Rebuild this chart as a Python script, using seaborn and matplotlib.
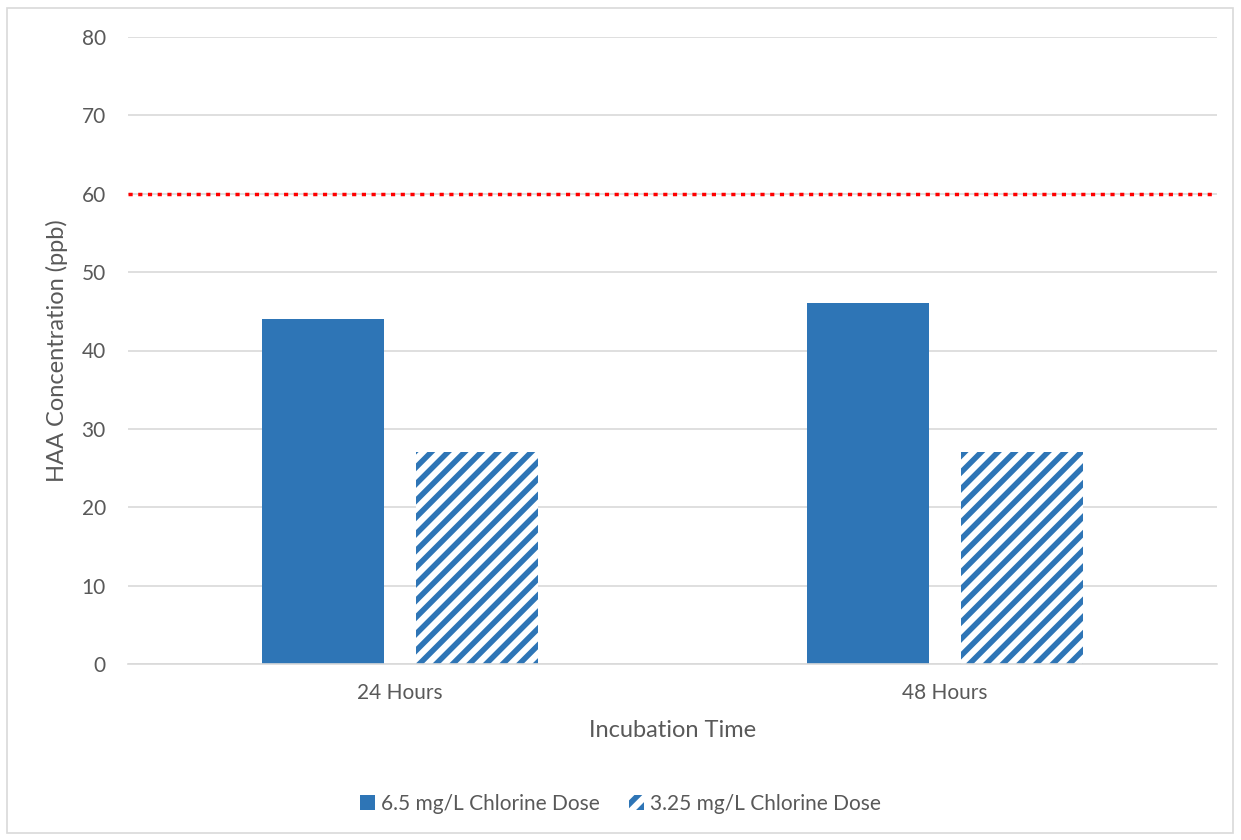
import matplotlib
matplotlib.use("Agg")
import matplotlib.pyplot as plt
import seaborn as sns
import pandas as pd
from matplotlib.patches import Rectangle, Patch

categories = ["24 Hours", "48 Hours"]
series_names = ["6.5 mg/L Chlorine Dose", "3.25 mg/L Chlorine Dose"]
high_dose = [44, 46]
low_dose = [27, 27]
mcl_limit = 60
yticks = [0, 10, 20, 30, 40, 50, 60, 70, 80]

df = pd.DataFrame({
    "Incubation Time": categories * 2,
    "Series": [series_names[0]] * 2 + [series_names[1]] * 2,
    "Value": high_dose + low_dose,
})

sns.set_theme(style="white")
plt.rcParams["font.family"] = ["Lato", "DejaVu Sans"]
plt.rcParams["hatch.linewidth"] = 4.0

blue = "#2E75B6"
text_col = "#595959"

fig = plt.figure(figsize=(12.41, 8.4), dpi=100)
ax = fig.add_axes([128 / 1241, (840 - 664) / 840, (1217 - 128) / 1241, (664 - 37) / 840])

sns.barplot(data=df, x="Incubation Time", y="Value", hue="Series",
            palette=[blue, blue], width=0.566, gap=0.21, ax=ax,
            legend=False, saturation=1)

for i, bar in enumerate(ax.patches):
    bar.set_linewidth(0)
    if i >= 2:
        bar.set_facecolor("white")
        bar.set_edgecolor(blue)
        bar.set_hatch("//")

ax.axhline(mcl_limit, color="#FF0000", linewidth=2.5, linestyle=(0, (1.2, 1.6)),
           dash_capstyle="butt", zorder=5)

ax.set_ylim(0, 80)
ax.set_yticks(yticks)
ax.yaxis.grid(True, color="#D9D9D9", linewidth=1.2)
ax.set_axisbelow(True)
for s in ["top", "right", "left"]:
    ax.spines[s].set_visible(False)
ax.spines["bottom"].set_color("#D9D9D9")
ax.spines["bottom"].set_linewidth(1.2)
ax.tick_params(axis="both", length=0, labelsize=15, colors=text_col, pad=16)
ax.tick_params(axis="x", pad=14)
ax.set_xlabel("Incubation Time", fontsize=17, color=text_col, labelpad=12)
ax.set_ylabel("HAA Concentration (ppb)", fontsize=17, color=text_col, labelpad=10)

handles = [Patch(facecolor=blue, edgecolor=blue, linewidth=0),
           Patch(facecolor="white", edgecolor=blue, hatch="//", linewidth=0)]
fig.legend(handles, series_names, loc="center", bbox_to_anchor=(0.5, (840 - 804) / 840),
           ncol=2, frameon=False, fontsize=15, labelcolor=text_col,
           handlelength=0.7, handleheight=0.7, handletextpad=0.3, columnspacing=1.4)

fig.patches.append(Rectangle((7 / 1241, 7 / 840), 1 - 15 / 1241, 1 - 15 / 840,
                             transform=fig.transFigure, fill=False,
                             edgecolor="#D9D9D9", linewidth=1.2))

fig.savefig("out.png", dpi=100)
